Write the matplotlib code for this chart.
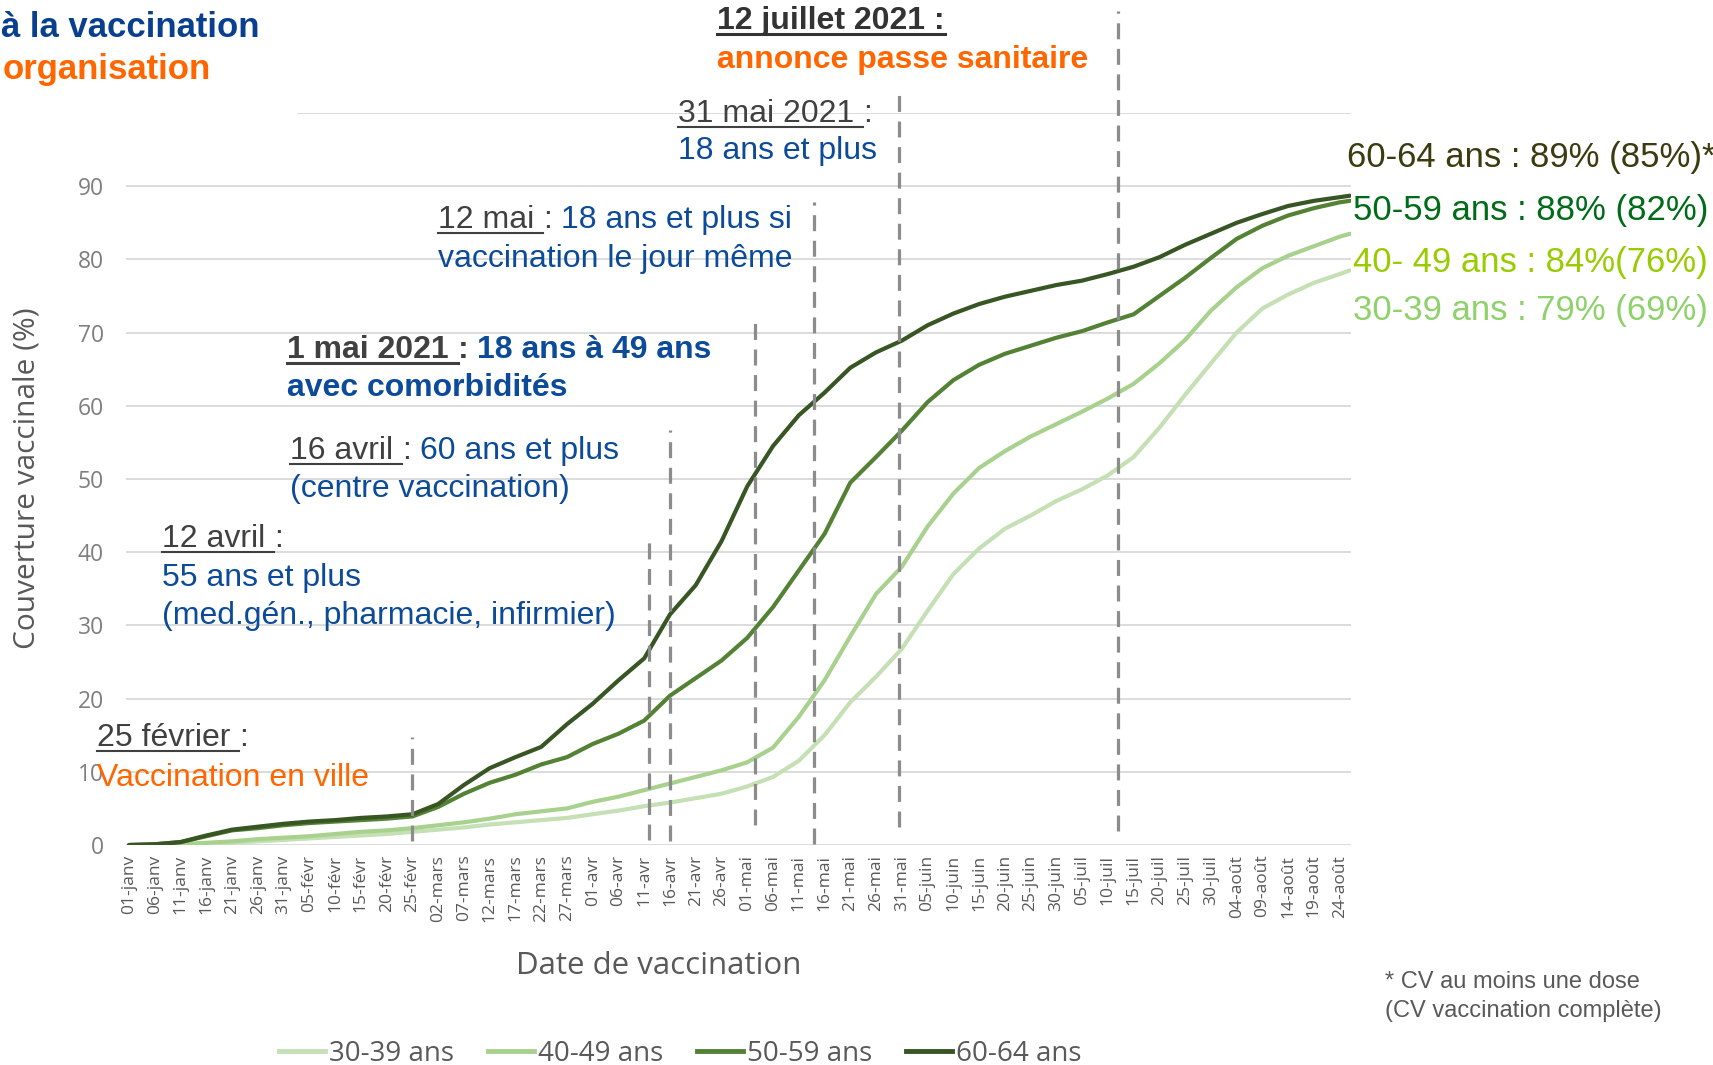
import datetime as dt
import matplotlib
matplotlib.use("Agg")
import matplotlib.pyplot as plt
from matplotlib.lines import Line2D
from matplotlib.text import Text

W, H = 1713, 1065

# jours depuis le 01/01/2021 (un point tous les 5 jours + dernier jour)
jours = list(range(0, 236, 5)) + [237]

cv_30_39 = [0, 0, 0.1, 0.2, 0.3, 0.5, 0.7, 0.9, 1.1, 1.3, 1.5, 1.8, 2.1, 2.4, 2.8, 3.1,
            3.4, 3.7, 4.2, 4.7, 5.3, 5.8, 6.4, 7.0, 8.0, 9.3, 11.5, 15.0, 19.5, 23.0, 26.8,
            32.0, 37.0, 40.5, 43.2, 45.0, 47.0, 48.6, 50.5, 53.0, 57.0, 61.5, 65.8, 70.0,
            73.3, 75.2, 76.8, 78.0, 78.5]
cv_40_49 = [0, 0, 0.1, 0.3, 0.5, 0.8, 1.0, 1.2, 1.5, 1.8, 2.0, 2.3, 2.7, 3.1, 3.6, 4.2,
            4.6, 5.0, 5.9, 6.6, 7.5, 8.4, 9.3, 10.2, 11.3, 13.3, 17.5, 22.5, 28.5, 34.3, 38.0,
            43.5, 48.0, 51.5, 53.8, 55.8, 57.5, 59.2, 61.0, 63.0, 65.8, 69.0, 73.0, 76.2,
            78.8, 80.5, 81.8, 83.1, 83.5]
cv_50_59 = [0, 0.1, 0.4, 1.2, 2.0, 2.3, 2.7, 3.0, 3.2, 3.4, 3.6, 3.9, 5.2, 7.0, 8.5, 9.6,
            11.0, 12.0, 13.8, 15.2, 17.0, 20.4, 22.8, 25.2, 28.3, 32.5, 37.5, 42.5, 49.5, 53.0,
            56.6, 60.5, 63.5, 65.6, 67.1, 68.2, 69.3, 70.2, 71.4, 72.5, 75.0, 77.5, 80.2, 82.8,
            84.6, 86.0, 87.0, 87.8, 88.0]
cv_60_64 = [0, 0.1, 0.4, 1.3, 2.1, 2.5, 2.9, 3.2, 3.4, 3.7, 3.9, 4.2, 5.6, 8.2, 10.5, 12.0,
            13.4, 16.5, 19.3, 22.5, 25.5, 31.5, 35.5, 41.5, 49.0, 54.5, 58.7, 61.8, 65.2, 67.3,
            68.9, 71.0, 72.6, 73.9, 74.9, 75.7, 76.5, 77.1, 78.0, 79.0, 80.3, 82.0, 83.5, 85.0,
            86.2, 87.3, 88.0, 88.5, 88.7]

groupes = ["30-39 ans", "40-49 ans", "50-59 ans", "60-64 ans"]
couleurs = ["#c5e0b4", "#a9d18e", "#548235", "#375623"]

mois = {1: "janv", 2: "févr", 3: "mars", 4: "avr", 5: "mai", 6: "juin", 7: "juil", 8: "août"}
debut = dt.date(2021, 1, 1)
jours_ticks = list(range(0, 236, 5))
etiquettes_x = []
for d in jours_ticks:
    j = debut + dt.timedelta(days=d)
    etiquettes_x.append(f"{j.day:02d}-{mois[j.month]}")

# lignes pointillées des annonces : jour, haut, bas (en %)
annonces_jour = [55, 101, 105, 121.5, 133, 149.5, 192]
annonces_haut = [14.7, 42.5, 56.7, 72.4, 87.8, 103, 114]
annonces_bas = [0.5, 0.7, 0.5, 2.7, 0.1, 2.4, 1.9]

etiquettes_droite = ["60-64 ans : 89% (85%)*", "50-59 ans : 88% (82%)",
                     "40- 49 ans : 84%(76%)", "30-39 ans : 79% (69%)"]
couleurs_droite = ["#3b3b10", "#006b18", "#99cc00", "#8fd16b"]

GRIS = "#404040"
BLEU = "#0c4a9a"
ORANGE = "#ff6600"
GRIS_AXE = "#595959"

fig = plt.figure(figsize=(W / 100, H / 100), dpi=100)
ax = fig.add_axes([126 / W, 1 - 845 / H, (1351 - 126) / W, (845 - 113) / H])

for vals, col, lab in zip([cv_30_39, cv_40_49, cv_50_59, cv_60_64], couleurs, groupes):
    ax.plot(jours, vals, color=col, lw=3, label=lab, solid_capstyle="round", zorder=3)

for d, haut, bas in zip(annonces_jour, annonces_haut, annonces_bas):
    ax.plot([d, d], [bas, haut], color="#8c8c8c", lw=2.3, dashes=(5, 3),
            clip_on=False, zorder=4)

ax.set_xlim(-0.6, 237.2)
ax.set_ylim(0, 100)
ax.set_yticks(range(0, 91, 10))
ax.set_xticks(jours_ticks)
ax.set_xticklabels(etiquettes_x, rotation=90, fontsize=12.5, color=GRIS_AXE, family="Open Sans")
for lab in ax.get_yticklabels():
    lab.set_family("Open Sans")
    lab.set_fontsize(16.5)
    lab.set_color("#7f7f7f")
ax.tick_params(axis="x", length=0, pad=7)
ax.tick_params(axis="y", length=0, pad=16)
for s in ax.spines.values():
    s.set_visible(False)
ax.grid(axis="y", color="#d9d9d9", lw=1.3)
ax.grid(axis="x", visible=False)
ax.axhline(100, xmin=0.14, xmax=1, color="#d9d9d9", lw=1.3, zorder=0)
ax.set_axisbelow(True)

fig.text(27 / W, 1 - 478 / H, "Couverture vaccinale (%)", rotation=90, ha="center",
         va="center", fontsize=21.5, color=GRIS_AXE, family="Open Sans")
fig.text(659 / W, 1 - 966 / H, "Date de vaccination", ha="center", va="center",
         fontsize=22.5, color=GRIS_AXE, family="Open Sans")

poignees = [Line2D([0], [0], color=c, lw=3.5) for c in couleurs]
fig.legend(poignees, groupes, loc="center left", bbox_to_anchor=(279 / W, 1 - 1054 / H),
           ncol=4, frameon=False, handlelength=1.65, handletextpad=0.15,
           columnspacing=1.22, borderpad=0, borderaxespad=0,
           prop={"family": "Open Sans", "size": 20}, labelcolor=GRIS_AXE)

rend = fig.canvas.get_renderer()


def largeur(texte, taille, gras):
    t = Text(0, 0, texte, fontsize=taille, fontweight="bold" if gras else "normal",
             family="Liberation Sans", figure=fig)
    return t.get_window_extent(rend).width


def ecrire(x, y, morceaux, taille=23):
    # morceaux : (texte, couleur, gras, souligné, espaces après)
    for texte, couleur, gras, souligne, espaces in morceaux:
        t = fig.text(x / W, 1 - y / H, texte, color=couleur, fontsize=taille,
                     fontweight="bold" if gras else "normal", family="Liberation Sans",
                     ha="left", va="baseline")
        bb = t.get_window_extent(rend)
        esp = largeur("a a", taille, gras) - largeur("aa", taille, gras)
        x_fin = bb.x1 + espaces * esp
        if souligne:
            yl = 1 - (y + 5) / H
            fig.add_artist(Line2D([bb.x0 / W, x_fin / W], [yl, yl], color=couleur,
                                  lw=2.2 if gras else 1.5))
        x = x_fin


# titre tronqué en haut à gauche
ecrire(1, 37, [("à la vaccination", "#083f8f", True, False, 0)], 25)
ecrire(3, 79, [("organisation", ORANGE, True, False, 0)], 25)

ecrire(717, 29, [("12 juillet 2021 :", "#333333", True, True, 0)])
ecrire(717, 68, [("annonce passe sanitaire", ORANGE, True, False, 0)])

ecrire(678, 122, [("31 mai 2021", GRIS, False, True, 1), (":", GRIS, False, False, 0)])
ecrire(678, 159, [("18 ans et plus", BLEU, False, False, 0)])

ecrire(438, 228, [("12 mai", GRIS, False, True, 1), (":", GRIS, False, False, 1),
                  ("18 ans et plus si", BLEU, False, False, 0)])
ecrire(438, 267, [("vaccination le jour même", BLEU, False, False, 0)])

ecrire(287, 358, [("1 mai 2021", GRIS, True, True, 1), (":", GRIS, True, False, 1),
                  ("18 ans à 49 ans", BLEU, True, False, 0)])
ecrire(287, 396, [("avec comorbidités", BLEU, True, False, 0)])

ecrire(290, 459, [("16 avril", GRIS, False, True, 1), (":", GRIS, False, False, 1),
                  ("60 ans et plus", BLEU, False, False, 0)])
ecrire(290, 497, [("(centre vaccination)", BLEU, False, False, 0)])

ecrire(162, 547, [("12 avril", GRIS, False, True, 1), (":", GRIS, False, False, 0)])
ecrire(162, 586, [("55 ans et plus", BLEU, False, False, 0)])
ecrire(162, 624, [("(med.gén., pharmacie, infirmier)", BLEU, False, False, 0)])

ecrire(97, 746, [("25 février", GRIS, False, True, 1), (":", GRIS, False, False, 0)])
ecrire(97, 786, [("Vaccination en ville", ORANGE, False, False, 0)])

# valeurs finales à droite
for (x, y), txt, col in zip([(1347, 167), (1353, 220), (1353, 272), (1353, 320)],
                            etiquettes_droite, couleurs_droite):
    ecrire(x, y, [(txt, col, False, False, 0)], 25)

ecrire(1385, 988, [("* CV au moins une dose", GRIS_AXE, False, False, 0)], 17)
ecrire(1385, 1017, [("(CV vaccination complète)", GRIS_AXE, False, False, 0)], 17)

fig.savefig("out.png", dpi=100)
